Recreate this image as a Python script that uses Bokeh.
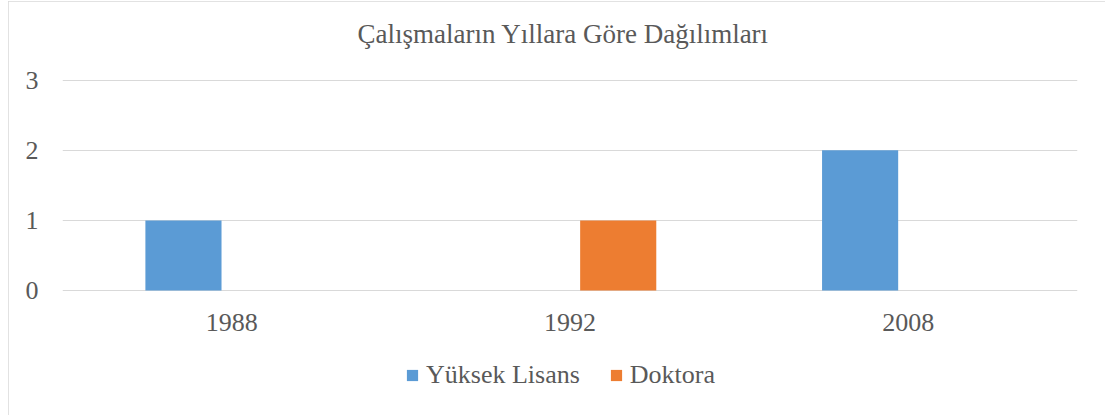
from bokeh.plotting import figure
from bokeh.models import ColumnDataSource, Range1d, FixedTicker, Legend, LegendItem
from bokeh.core.properties import value
from bokeh.transform import dodge
from bokeh.embed import file_html
from bokeh.resources import INLINE

years = ["1988", "1992", "2008"]
yuksek_lisans = [1, 0, 2]
doktora = [0, 1, 0]
series_names = ["Yüksek Lisans", "Doktora"]
y_ticks = [0, 1, 2, 3]
title_text = "Çalışmaların Yıllara Göre Dağılımları"

FONT = "Liberation Serif"
TXT = "#595959"
GRID = "#d9d9d9"
BLUE = "#5b9bd5"
ORANGE = "#ed7d31"
FS = "26px"

source = ColumnDataSource(data=dict(year=years, yl=yuksek_lisans, dr=doktora,
                                    base=[0] * len(years)))

# frame extends below zero (labels, legend) and a bit above the top gridline
p = figure(x_range=years, y_range=Range1d(-1.64, 3.438), frame_width=1015, frame_height=356,
           output_backend="svg", toolbar_location=None,
           min_border_left=54, min_border_right=28, min_border_top=48, min_border_bottom=10)
p.margin = (1, 0, 0, 8)
p.styles = {"outline": "1px solid #d9d9d9", "outline-offset": "-1px"}

p.title.text = title_text
p.title.align = "left"
p.title.offset = 295
p.title.text_font = FONT
p.title.text_font_size = "27px"
p.title.text_font_style = "normal"
p.title.text_color = TXT
p.title.standoff = 2

r1 = p.vbar(x=dodge("year", -0.1425, range=p.x_range), top="yl", width=0.225,
            source=source, fill_color=BLUE, line_color=None)
r2 = p.vbar(x=dodge("year", 0.1425, range=p.x_range), top="dr", width=0.225,
            source=source, fill_color=ORANGE, line_color=None)

# category labels under the zero line
p.text(x="year", y="base", text="year", source=source, y_offset=32,
       text_align="center", text_baseline="middle", text_font=value(FONT),
       text_font_size=FS, text_color=TXT)

p.outline_line_color = None
p.xgrid.grid_line_color = None
p.ygrid.grid_line_color = GRID
p.ygrid.grid_line_width = 1
p.xaxis.visible = False

p.yaxis.ticker = FixedTicker(ticks=y_ticks)
ax = p.yaxis[0]
ax.axis_line_color = None
ax.major_tick_line_color = None
ax.minor_tick_line_color = None
ax.major_tick_out = 0
ax.major_tick_in = 0
ax.major_label_text_font = FONT
ax.major_label_text_font_size = FS
ax.major_label_text_color = TXT
ax.major_label_standoff = 24

legend = Legend(items=[LegendItem(label=series_names[0], renderers=[r1]),
                       LegendItem(label=series_names[1], renderers=[r2])],
                orientation="horizontal", location=(343, 15),
                label_text_font=FONT, label_text_font_size=FS, label_text_color=TXT,
                glyph_width=14, glyph_height=14, label_height=26, label_standoff=7, spacing=29,
                border_line_color=None, background_fill_alpha=0, padding=0, margin=0)
p.add_layout(legend, "center")

open("out.html", "w").write(file_html(p, INLINE))
